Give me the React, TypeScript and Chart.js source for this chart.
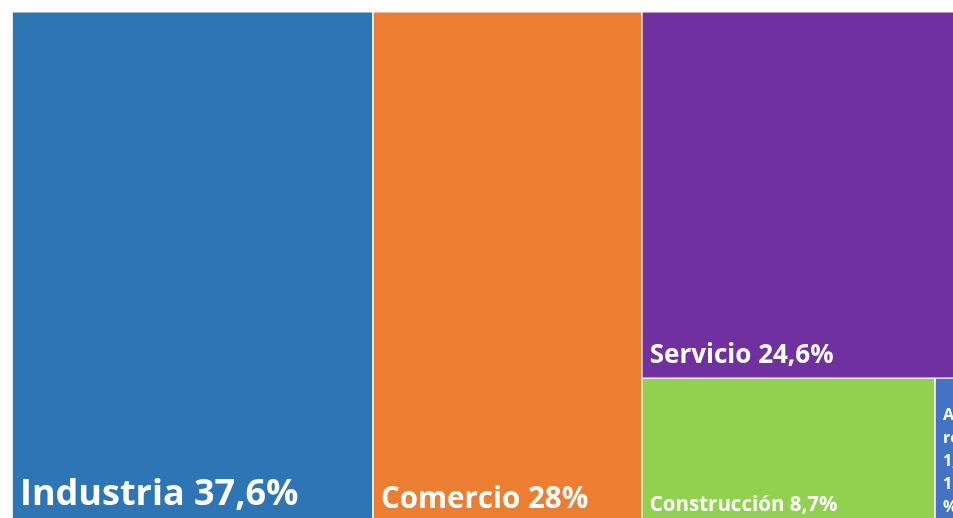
import { useEffect, useRef } from "react";
import { Chart, registerables } from "chart.js";

Chart.register(...registerables);

const categories = ["Industria", "Comercio", "Servicio", "Construcción", "Agro"];
const shares = [37.6, 28, 24.6, 8.7, 1.1];
const labelLines = [
  ["Industria 37,6%"],
  ["Comercio 28%"],
  ["Servicio 24,6%"],
  ["Construcción 8,7%"],
  ["Agro", "recursos", "1,", "1", "%"],
];
const colors = ["#2E75B6", "#ED7D31", "#7030A0", "#92D050", "#4472C4"];
const labelSizes = [36, 29.5, 26, 20.5, 16];

const PLOT_W = 960;
const PLOT_H = 512;
const GAP = 0.6;

type Rect = { x0: number; x1: number; y0: number; y1: number };

function worst(row: number[], side: number): number {
  const s = row.reduce((a, b) => a + b, 0);
  let w = 0;
  for (const a of row) {
    w = Math.max(w, (side * side * a) / (s * s), (s * s) / (side * side * a));
  }
  return w;
}

function squarify(values: number[], W: number, H: number): Rect[] {
  const total = values.reduce((a, b) => a + b, 0);
  const areas = values.map((v) => (v / total) * W * H);
  const rects: Rect[] = [];
  let x = 0, y = 0, w = W, h = H;
  let idx = 0;
  while (idx < areas.length) {
    const side = Math.min(w, h);
    let row = [areas[idx]];
    let k = idx + 1;
    while (k < areas.length) {
      const cand = row.concat(areas[k]);
      if (worst(cand, side) <= worst(row, side)) {
        row = cand;
        k++;
      } else break;
    }
    const rowArea = row.reduce((a, b) => a + b, 0);
    if (w >= h) {
      const cw = rowArea / h;
      let cy = y;
      row.forEach((a, j) => {
        const rh = a / cw;
        rects[idx + j] = { x0: x, x1: x + cw, y0: cy, y1: cy + rh };
        cy += rh;
      });
      x += cw;
      w -= cw;
    } else {
      const rh = rowArea / w;
      let cx = x;
      row.forEach((a, j) => {
        const rw = a / rh;
        rects[idx + j] = { x0: cx, x1: cx + rw, y0: y, y1: y + rh };
        cx += rw;
      });
      y += rh;
      h -= rh;
    }
    idx = k;
  }
  return rects;
}

export default function App() {
  const ref = useRef<HTMLCanvasElement>(null);
  useEffect(() => {
    if (!ref.current) return;
    const rects = squarify(shares, PLOT_W, PLOT_H);
    const datasets = rects.map((r, i) => ({
      label: categories[i],
      data: [
        { x: r.x0 + GAP, y: r.y0 + GAP },
        { x: r.x1 - GAP, y: r.y0 + GAP },
      ],
      borderWidth: 0,
      borderColor: colors[i],
      backgroundColor: colors[i],
      pointRadius: 0,
      fill: { value: r.y1 - GAP },
    }));
    const labelPlugin = {
      id: "cellLabels",
      afterDatasetsDraw(chart: any) {
        const { ctx } = chart;
        const xs = chart.scales.x;
        const ys = chart.scales.y;
        ctx.save();
        ctx.beginPath();
        ctx.rect(chart.chartArea.left, chart.chartArea.top, chart.chartArea.right - chart.chartArea.left, chart.chartArea.bottom - chart.chartArea.top);
        ctx.clip();
        rects.forEach((r, i) => {
          const size = labelSizes[i];
          ctx.font = `bold ${size}px "Open Sans"`;
          ctx.fillStyle = "#ffffff";
          ctx.textBaseline = "alphabetic";
          ctx.textAlign = "left";
          const left = xs.getPixelForValue(r.x0) + 8;
          const bottom = ys.getPixelForValue(r.y1) - (size * 0.35 + 6);
          const lines = labelLines[i];
          const lh = size * 1.45;
          lines.forEach((t, j) => {
            ctx.fillText(t, left, bottom - (lines.length - 1 - j) * lh);
          });
        });
        ctx.restore();
      },
    };
    const chart = new Chart(ref.current, {
      type: "line",
      data: { datasets: datasets as any },
      options: {
        animation: false,
        responsive: false,
        maintainAspectRatio: false,
        layout: { padding: 0 },
        scales: {
          x: { type: "linear", min: 0, max: PLOT_W, display: false },
          y: { type: "linear", min: 0, max: PLOT_H, reverse: true, display: false },
        },
        plugins: {
          legend: { display: false },
          tooltip: { enabled: false },
        },
      },
      plugins: [labelPlugin],
    });
    return () => chart.destroy();
  }, []);
  return (
    <div style={{ position: "fixed", left: 0, top: 0, width: 953, height: 518, overflow: "hidden", background: "#fff" }}>
      <div style={{ position: "absolute", left: 12, top: 12, width: PLOT_W, height: PLOT_H }}>
        <canvas ref={ref} width={PLOT_W} height={PLOT_H} style={{ width: PLOT_W, height: PLOT_H }} />
      </div>
    </div>
  );
}
